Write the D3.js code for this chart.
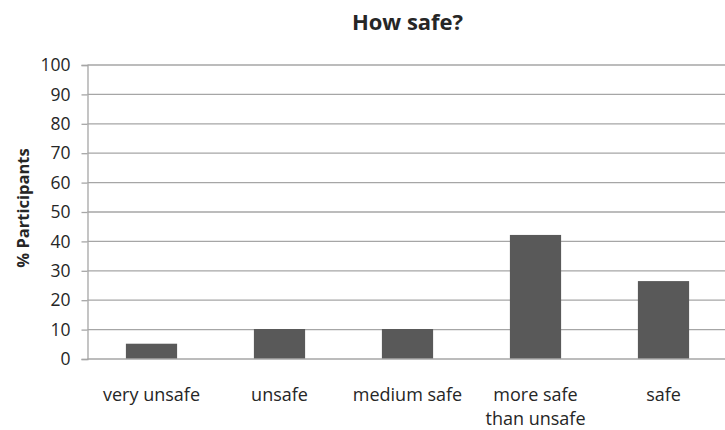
<!DOCTYPE html>
<html>
<head>
<meta charset="utf-8">
<script src="https://cdn.jsdelivr.net/npm/d3@7"></script>
<style>
  html, body { margin: 0; padding: 0; background: #fff; }
  svg { display: block; }
  text { font-family: "Open Sans", "Liberation Sans", sans-serif; fill: #262626; }
</style>
</head>
<body>
<svg id="chart" width="725" height="430"></svg>
<script>
// Survey answers: how safe participants felt
const categories = ["very unsafe", "unsafe", "medium safe", "more safe than unsafe", "safe"];
const categoryLines = [["very unsafe"], ["unsafe"], ["medium safe"], ["more safe", "than unsafe"], ["safe"]];
const percentages = [5.2, 10.2, 10.2, 42.2, 26.5];
const yTicks = [0, 10, 20, 30, 40, 50, 60, 70, 80, 90, 100];

const svg = d3.select("#chart");
const margin = { left: 87.5, right: -2.5, top: 65, bottom: 71 };
const width = 725 - margin.left - margin.right;
const height = 430 - margin.top - margin.bottom;

const g = svg.append("g").attr("transform", `translate(${margin.left},${margin.top})`);

const x = d3.scaleBand().domain(categories).range([0, width]).paddingInner(0.6).paddingOuter(0.3);
const y = d3.scaleLinear().domain([0, 100]).range([height, 0]);

// Left axis with outer tick marks
const yAxis = d3.axisLeft(y).tickValues(yTicks).tickSize(6).tickPadding(11);
const ya = g.append("g").call(yAxis);
ya.select(".domain").attr("stroke", "#a6a6a6").attr("stroke-width", 1.3);
ya.selectAll(".tick line").attr("stroke", "#a6a6a6").attr("stroke-width", 1.3);
ya.selectAll(".tick text").style("font-size", "17.5px").attr("fill", "#262626");

// Horizontal gridlines
g.append("g").selectAll("line.grid").data(yTicks.filter(d => d > 0)).join("line")
  .attr("class", "grid")
  .attr("x1", 0).attr("x2", width)
  .attr("y1", d => y(d)).attr("y2", d => y(d))
  .attr("stroke", "#a6a6a6").attr("stroke-width", 1.3);

// Bars
g.append("g").selectAll("rect").data(percentages).join("rect")
  .attr("x", (d, i) => x(categories[i]))
  .attr("width", x.bandwidth())
  .attr("y", d => y(d))
  .attr("height", d => y(0) - y(d))
  .attr("fill", "#595959");

// Baseline drawn over the bars
g.append("line").attr("x1", 0).attr("x2", width).attr("y1", y(0)).attr("y2", y(0))
  .attr("stroke", "#a6a6a6").attr("stroke-width", 1.3);

// Category labels (wrapped)
const labels = g.append("g").selectAll("text").data(categories).join("text")
  .attr("text-anchor", "middle")
  .style("font-size", "18px")
  .attr("transform", d => `translate(${x(d) + x.bandwidth() / 2},${height + 41.5})`);
labels.each(function(d, i) {
  d3.select(this).selectAll("tspan").data(categoryLines[i]).join("tspan")
    .attr("x", 0).attr("dy", (t, j) => j === 0 ? 0 : 24.5).text(t => t);
});

// Y axis title
svg.append("text")
  .attr("transform", `translate(29,208) rotate(-90)`)
  .attr("text-anchor", "middle")
  .style("font-size", "16.5px").style("font-weight", "bold")
  .text("% Participants");

// Chart title
svg.append("text")
  .attr("x", 407.5).attr("y", 30)
  .attr("text-anchor", "middle")
  .style("font-size", "22px").style("font-weight", "bold")
  .text("How safe?");
</script>
</body>
</html>
